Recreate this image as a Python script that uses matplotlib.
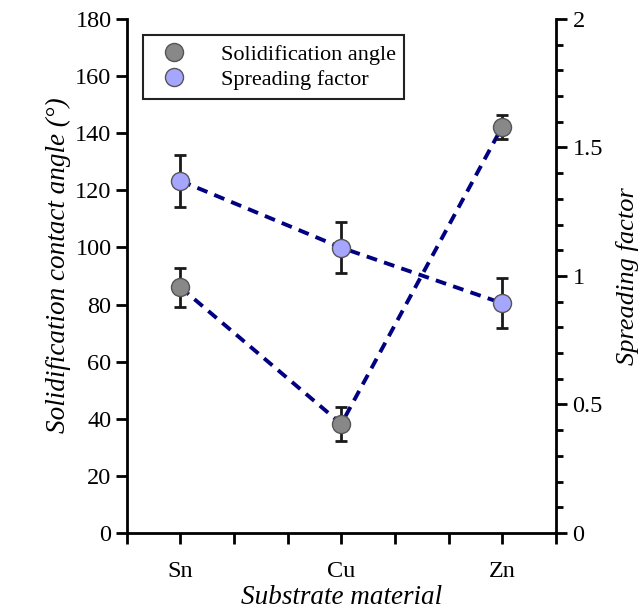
import numpy as np
import matplotlib
matplotlib.use("Agg")
import matplotlib.pyplot as plt
from matplotlib.ticker import MultipleLocator, FixedLocator

plt.rcParams['font.family'] = ['Liberation Serif', 'DejaVu Serif']

# data
substrates = ["Sn", "Cu", "Zn"]
angle = [86.0, 38.2, 142.2]
angle_err = [6.7, 6.0, 4.2]
spreading = [1.37, 1.11, 0.894]
spreading_err = [0.10, 0.10, 0.097]

x = np.arange(1, len(substrates) + 1)

fig = plt.figure(figsize=(6.44, 6.15), dpi=100)
ax = fig.add_axes([0.197, 0.1333, 0.666, 0.836])
ax2 = ax.twinx()

line_col = '#000080'
dash = (2.8, 1.9)

# solidification angle
ax.plot(x, angle, color=line_col, lw=2.8, dashes=dash, zorder=2)
ax.errorbar(x, angle, yerr=angle_err, fmt='none', ecolor='#1a1a1a',
            elinewidth=2, capsize=4.6, capthick=2, zorder=3)
h1, = ax.plot(x, angle, 'o', ms=13, mfc='#888888', mec='#555555', mew=1,
              zorder=4, label='Solidification angle')

# spreading factor
ax2.plot(x, spreading, color=line_col, lw=2.8, dashes=dash, zorder=2)
ax2.errorbar(x, spreading, yerr=spreading_err, fmt='none', ecolor='#1a1a1a',
             elinewidth=2, capsize=4.6, capthick=2, zorder=3)
h2, = ax2.plot(x, spreading, 'o', ms=13, mfc='#a6a6ff', mec='#555555', mew=1,
               zorder=4, label='Spreading factor')

ax.set_xlim(2 / 3, 3 + 1 / 3)
ax.set_ylim(0, 180)
ax2.set_ylim(0, 2)

ax.set_xticks(x)
ax.set_xticklabels(substrates)
ax.xaxis.set_minor_locator(FixedLocator([2 / 3, 4 / 3, 5 / 3, 7 / 3, 8 / 3, 10 / 3]))
ax.yaxis.set_major_locator(MultipleLocator(20))
ax2.set_yticks([0, 0.5, 1, 1.5, 2])
ax2.set_yticklabels(['0', '0.5', '1', '1.5', '2'])
ax2.yaxis.set_minor_locator(MultipleLocator(0.1))

for a in (ax, ax2):
    a.spines['top'].set_visible(False)
    for s in a.spines.values():
        s.set_linewidth(2)
ax.spines['right'].set_visible(False)
ax2.spines['left'].set_visible(False)
ax2.spines['bottom'].set_visible(False)

ax.tick_params(axis='both', which='both', direction='out', length=8, width=2,
               labelsize=17.5, pad=3)
ax.tick_params(axis='x', which='major', pad=12)
ax2.tick_params(axis='y', which='major', direction='out', length=8, width=2,
                labelsize=17.5, pad=4)
ax2.tick_params(axis='y', which='minor', direction='out', length=5, width=2)

ax.set_xlabel('Substrate material', fontsize=19.5, style='italic', labelpad=2)
ax.set_ylabel('Solidification contact angle (°)', fontsize=19.5, style='italic')
ax.yaxis.set_label_coords(-0.13, 0.52)
ax2.set_ylabel('Spreading factor', fontsize=19, style='italic')
ax2.yaxis.set_label_coords(1.14, 0.5)

leg = ax.legend(handles=[h1, h2], loc='upper left',
                bbox_to_anchor=(0.037, 0.968), fontsize=16, frameon=True,
                fancybox=False, framealpha=1, edgecolor='#222222',
                handletextpad=1.1, borderpad=0.4, labelspacing=0.2,
                borderaxespad=0)
leg.get_frame().set_linewidth(1.5)

fig.savefig('out.png', dpi=100)
